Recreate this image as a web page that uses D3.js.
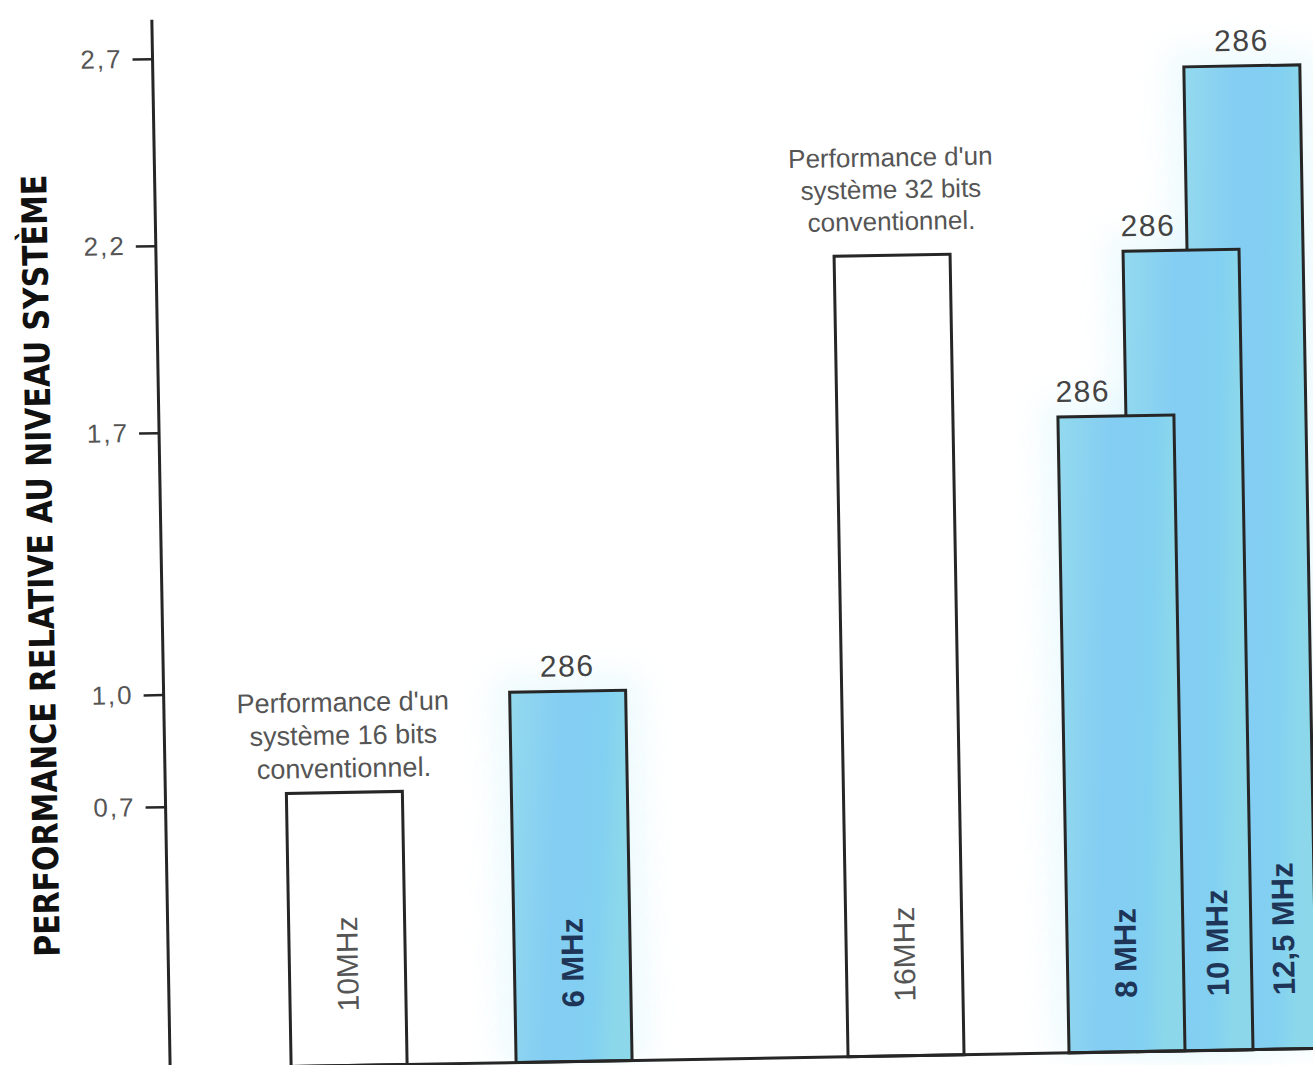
<!DOCTYPE html>
<html><head><meta charset="utf-8">
<script src="https://cdn.jsdelivr.net/npm/d3@7"></script>
<style>body{margin:0;background:#fff}svg{display:block}</style>
</head><body>
<script>
// ---------- data ----------
const barKeys   = ["b16", "p6", "b32", "p8", "p10", "p12"];
const barValues = [0.73, 0.99, 2.14, 1.70, 2.14, 2.63];
const barLabels = ["10MHz", "6 MHz", "16MHz", "8 MHz", "10 MHz", "12,5 MHz"];
const barTypes  = ["conv", "286", "conv", "286", "286", "286"];
const topLabels = ["", "286", "", "286", "286", "286"];
const annotationBars  = ["b16", "b32"];
const annotationLines = [
  ["Performance d'un", "système 16 bits", "conventionnel."],
  ["Performance d'un", "système 32 bits", "conventionnel."]
];
const tickValues = [0.7, 1.0, 1.7, 2.2, 2.7];
const tickLabels = ["0,7", "1,0", "1,7", "2,2", "2,7"];
const axisTitle = "PERFORMANCE RELATIVE AU NIVEAU SYSTÈME";
const staircase = ["p8", "p10", "p12"];   // overlapping 286 bars, front to back

// ---------- layout ----------
const W = 1313, H = 1065;
const bars = barKeys.map((k, i) => ({key: k, value: barValues[i], label: barLabels[i], type: barTypes[i], top: topLabels[i]}));
const svg = d3.select("body").append("svg").attr("width", W).attr("height", H)
  .style("font-family", "'Liberation Sans', Arial, sans-serif");
const defs = svg.append("defs");
const grad = defs.append("linearGradient").attr("id", "blue").attr("x1", 0).attr("x2", 1).attr("y1", 0).attr("y2", 0.2);
[[0, "#93d9ee"], [0.45, "#84cdf3"], [0.8, "#82d0f2"], [1, "#8cd8ea"]].forEach(s =>
  grad.append("stop").attr("offset", s[0]).attr("stop-color", s[1]));
defs.append("filter").attr("id", "glow").attr("x", "-50%").attr("y", "-50%").attr("width", "200%").attr("height", "200%")
  .append("feGaussianBlur").attr("stdDeviation", 16);

const g = svg.append("g").attr("transform", "rotate(-1,656,540)");
const y = d3.scaleLinear().domain([0, 2.7]).range([1060, 50]);
const x = d3.scaleOrdinal().domain(barKeys).range([282, 507, 839, 1060, 1128, 1192]);
const bw = 116;
const stroke = "#262626";

// glow behind 286 bars
g.append("g").selectAll("rect").data(bars.filter(d => d.type === "286")).join("rect")
  .attr("x", d => x(d.key) - 16).attr("y", d => y(d.value) - 16)
  .attr("width", bw + 32).attr("height", d => y(0) - y(d.value) + 16)
  .attr("fill", "#ccf1fa").attr("opacity", 0.35).attr("filter", "url(#glow)");

// axes
const axisX = 161;
g.append("line").attr("x1", axisX).attr("x2", axisX).attr("y1", y(2.7) - 39).attr("y2", y(0) + 15)
  .attr("stroke", stroke).attr("stroke-width", 3);
const yAxis = g.append("g").attr("transform", `translate(${axisX},0)`)
  .call(d3.axisLeft(y).tickValues(tickValues).tickFormat((d, i) => tickLabels[i]).tickSize(20).tickPadding(10));
yAxis.select(".domain").remove();
yAxis.selectAll(".tick line").attr("stroke", stroke).attr("stroke-width", 2.5);
yAxis.selectAll(".tick text").attr("fill", "#555").style("font-size", "26px").style("letter-spacing", "2px")
  .style("font-family", "'Liberation Sans', Arial, sans-serif");

g.append("text").attr("transform", "translate(40,555) rotate(-90)")
  .attr("text-anchor", "middle").attr("dy", "0.36em")
  .attr("textLength", 782).attr("lengthAdjust", "spacingAndGlyphs")
  .style("font-size", "35px").style("font-weight", "bold").attr("fill", "#111")
  .style("font-family", "'DejaVu Sans Condensed', 'Liberation Sans Narrow', 'Liberation Sans', sans-serif")
  .style("font-stretch", "condensed")
  .text(axisTitle);

// bars: back-to-front order
const order = ["b16", "p6", "b32", ...staircase.slice().reverse()];
const drawBars = order.map(k => bars.find(b => b.key === k));
g.append("g").selectAll("rect").data(drawBars).join("rect")
  .attr("x", d => x(d.key)).attr("y", d => y(d.value))
  .attr("width", bw).attr("height", d => y(0) - y(d.value))
  .attr("fill", d => d.type === "286" ? "url(#blue)" : "#fff")
  .attr("stroke", stroke).attr("stroke-width", 3);

// x baseline
g.append("line").attr("x1", axisX).attr("x2", W + 30).attr("y1", y(0)).attr("y2", y(0))
  .attr("stroke", stroke).attr("stroke-width", 3);

// inside (rotated) labels, centred on the visible part of each bar
function visibleLeft(d) {
  const i = staircase.indexOf(d.key);
  return i > 0 ? x(staircase[i - 1]) + bw : x(d.key);
}
g.append("g").selectAll("text").data(bars).join("text")
  .attr("transform", d => `translate(${(visibleLeft(d) + x(d.key) + bw) / 2},${y(0) - 54}) rotate(-90)`)
  .attr("dy", "0.35em").attr("text-anchor", "start")
  .style("font-size", d => d.type === "286" ? "31px" : "30px")
  .style("font-weight", d => d.type === "286" ? "bold" : "normal")
  .attr("fill", d => d.type === "286" ? "#1e3557" : "#555")
  .text(d => d.label);

// "286" labels above bars
g.append("g").selectAll("text").data(bars.filter(d => d.top)).join("text")
  .attr("x", d => {
    const i = staircase.indexOf(d.key);
    return (i >= 0 && i < staircase.length - 1) ? x(d.key) - 2 : x(d.key) + bw / 2;
  })
  .attr("y", d => y(d.value) - 15)
  .attr("text-anchor", d => {
    const i = staircase.indexOf(d.key);
    return (i >= 0 && i < staircase.length - 1) ? "start" : "middle";
  })
  .style("font-size", "30px").style("letter-spacing", "1.5px").attr("fill", "#444")
  .text(d => d.top);

// annotations above conventional bars
const annGap = [15, 25], annPitch = [33, 32], annSize = ["27px", "26px"];
annotationBars.forEach((k, i) => {
  const b = bars.find(d => d.key === k);
  const lines = annotationLines[i];
  const t = g.append("text").attr("text-anchor", "middle").attr("fill", "#555").style("font-size", annSize[i]);
  lines.forEach((ln, j) => {
    t.append("tspan").attr("x", x(k) + bw / 2)
      .attr("y", y(b.value) - annGap[i] - (lines.length - 1 - j) * annPitch[i]).text(ln);
  });
});
</script>
</body></html>
